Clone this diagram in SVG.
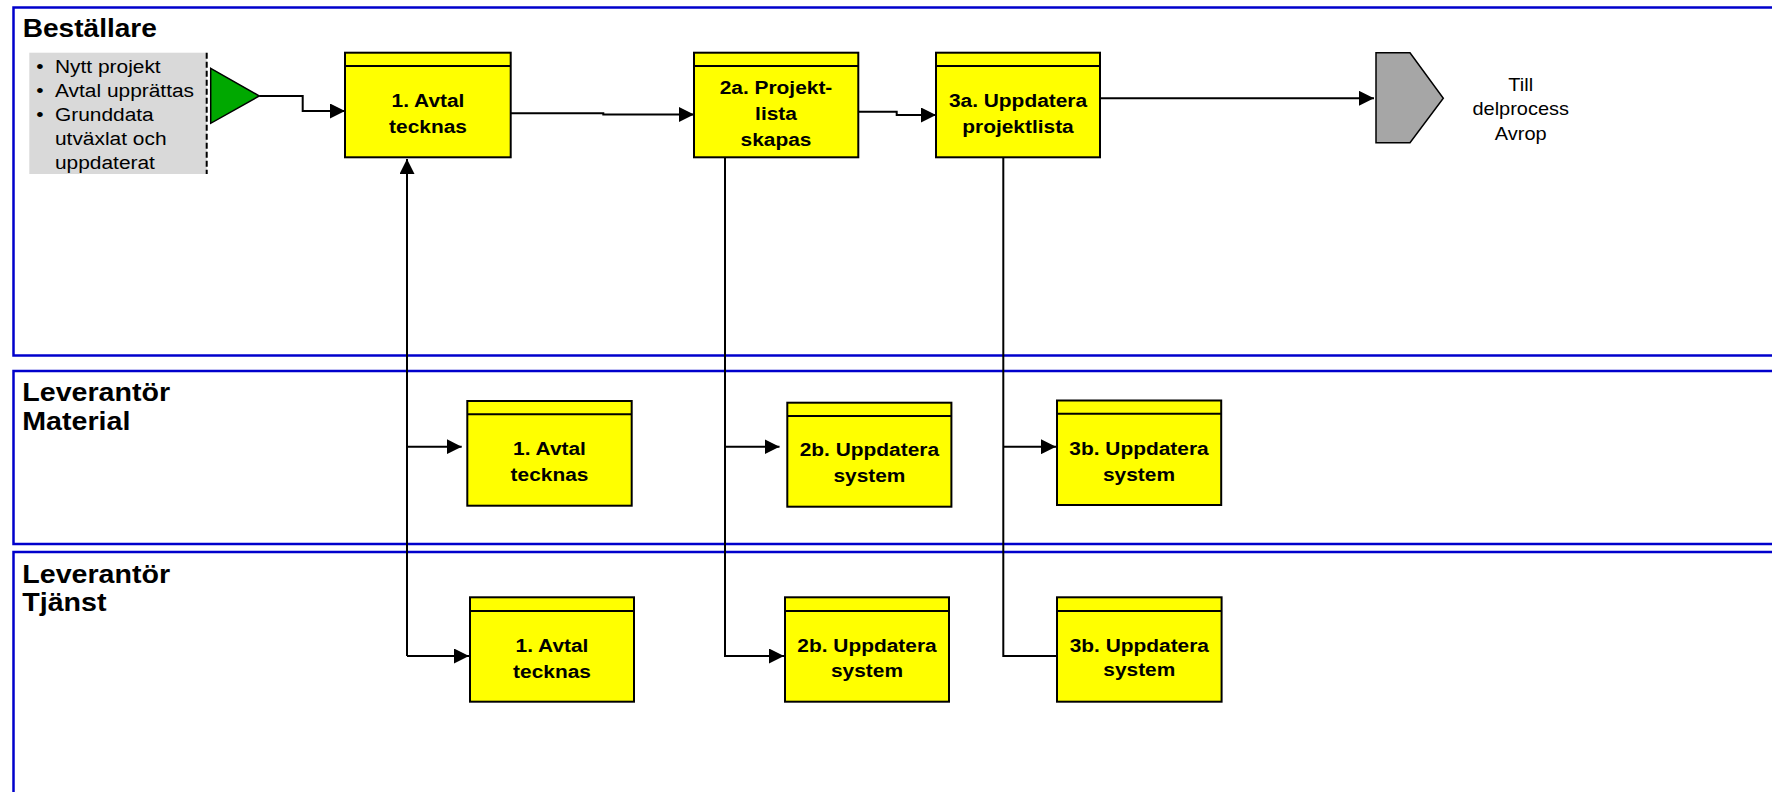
<svg xmlns="http://www.w3.org/2000/svg" width="1772" height="792" viewBox="0 0 1772 792">
  <defs>
    <style>
      .lane { fill: none; stroke: #0000cc; stroke-width: 2.5; }
      .title { font-family: "Liberation Sans", Arial, sans-serif; font-weight: bold; font-size: 26px; fill: #000; }
      .task { fill: #ffff00; stroke: #000; stroke-width: 2; }
      .hdr { stroke: #000; stroke-width: 2; }
      .lbl { font-family: "Liberation Sans", Arial, sans-serif; font-weight: bold; font-size: 19px; fill: #000; text-anchor: middle; }
      .note { font-family: "Liberation Sans", Arial, sans-serif; font-size: 19px; fill: #000; }
      .conn { fill: none; stroke: #000; stroke-width: 2; }
    </style>
    <marker id="arrow" markerUnits="userSpaceOnUse" markerWidth="16" markerHeight="15" refX="15" refY="7.5" orient="auto">
      <path d="M0,0 L15,7.5 L0,15 Z" fill="#000"/>
    </marker>
  </defs>

  <rect width="1772" height="792" fill="#fff"/>

  <!-- swimlanes -->
  <g id="lane-bestallare">
    <rect class="lane" x="13.5" y="7.5" width="1800" height="348"/>
    <text class="title" transform="translate(22.7,0) scale(1.08,1)" x="0" y="36.7">Beställare</text>
  </g>
  <g id="lane-material">
    <rect class="lane" x="13.5" y="371" width="1800" height="173"/>
    <text class="title" transform="translate(22.3,0) scale(1.1,1)" x="0" y="400.7">Leverantör<tspan x="0" dy="29.3">Material</tspan></text>
  </g>
  <g id="lane-tjanst">
    <rect class="lane" x="13.5" y="552" width="1800" height="260"/>
    <text class="title" transform="translate(22.3,0) scale(1.1,1)" x="0" y="582.7">Leverantör<tspan x="0" dy="28.8">Tjänst</tspan></text>
  </g>

  <!-- connectors -->
  <g id="connectors">
    <path class="conn" d="M259.3,96 H302.7 V111 H345" marker-end="url(#arrow)"/>
    <path class="conn" d="M510.7,113.3 H603.3 V114.5 H694" marker-end="url(#arrow)"/>
    <path class="conn" d="M858.3,111.7 H896.7 V115 H936" marker-end="url(#arrow)"/>
    <path class="conn" d="M1100,98.3 H1374" marker-end="url(#arrow)"/>

    <path class="conn" d="M407,656 V159" marker-end="url(#arrow)"/>
    <path class="conn" d="M407,446.7 H461.7" marker-end="url(#arrow)"/>
    <path class="conn" d="M407,656 H469" marker-end="url(#arrow)"/>

    <path class="conn" d="M725,158 V656 H784" marker-end="url(#arrow)"/>
    <path class="conn" d="M725,446.7 H779.5" marker-end="url(#arrow)"/>

    <path class="conn" d="M1003.3,158 V656 H1057"/>
    <path class="conn" d="M1003.3,446.7 H1056" marker-end="url(#arrow)"/>
  </g>

  <!-- start: input list and trigger -->
  <g id="start-inputs">
    <rect x="29.3" y="52.7" width="177.4" height="121.3" fill="#d9d9d9"/>
    <line x1="206.7" y1="52.7" x2="206.7" y2="174" stroke="#000" stroke-width="2" stroke-dasharray="6 3"/>
    <g class="note">
      <text transform="translate(40,0) scale(1.1,1)" x="0" y="72.7" text-anchor="middle">•</text>
      <text transform="translate(40,0) scale(1.1,1)" x="0" y="96.7" text-anchor="middle">•</text>
      <text transform="translate(40,0) scale(1.1,1)" x="0" y="120.7" text-anchor="middle">•</text>
      <text transform="translate(55,0) scale(1.1,1)" x="0" y="72.7">Nytt projekt</text>
      <text transform="translate(55,0) scale(1.1,1)" x="0" y="96.7">Avtal upprättas</text>
      <text transform="translate(55,0) scale(1.1,1)" x="0" y="120.7">Grunddata<tspan x="0" dy="24.2">utväxlat och</tspan><tspan x="0" dy="24">uppdaterat</tspan></text>
    </g>
  </g>
  <g id="start-trigger">
    <polygon points="210.7,68.3 259.3,96 210.7,123.3" fill="#00a800" stroke="#000" stroke-width="1.5"/>
  </g>

  <!-- Beställare tasks -->
  <g id="task-1a">
    <rect class="task" x="345" y="52.7" width="165.7" height="104.6"/>
    <line class="hdr" x1="345" y1="66" x2="510.7" y2="66"/>
    <text class="lbl" transform="translate(428,0) scale(1.1,1)" x="0" y="107.3">1. Avtal<tspan x="0" dy="25.6">tecknas</tspan></text>
  </g>
  <g id="task-2a">
    <rect class="task" x="694" y="52.7" width="164.3" height="104.6"/>
    <line class="hdr" x1="694" y1="66" x2="858.3" y2="66"/>
    <text class="lbl" transform="translate(776,0) scale(1.1,1)" x="0" y="94">2a. Projekt-<tspan x="0" dy="26">lista</tspan><tspan x="0" dy="26">skapas</tspan></text>
  </g>
  <g id="task-3a">
    <rect class="task" x="936" y="52.7" width="164" height="104.6"/>
    <line class="hdr" x1="936" y1="66" x2="1100" y2="66"/>
    <text class="lbl" transform="translate(1018,0) scale(1.1,1)" x="0" y="107">3a. Uppdatera<tspan x="0" dy="26">projektlista</tspan></text>
  </g>
  <g id="end-avrop">
    <polygon points="1376,52.7 1410,52.7 1443.3,98.3 1410,142.7 1376,142.7" fill="#a6a6a6" stroke="#000" stroke-width="1.5"/>
    <text class="note" transform="translate(1520.7,0) scale(1.05,1)" x="0" y="90.7" text-anchor="middle">Till<tspan x="0" dy="24.5">delprocess</tspan><tspan x="0" dy="24.8">Avrop</tspan></text>
  </g>

  <!-- Leverantör Material tasks -->
  <g id="task-1b-material">
    <rect class="task" x="467.3" y="401" width="164.4" height="104.7"/>
    <line class="hdr" x1="467.3" y1="414.3" x2="631.7" y2="414.3"/>
    <text class="lbl" transform="translate(549.5,0) scale(1.1,1)" x="0" y="455">1. Avtal<tspan x="0" dy="26">tecknas</tspan></text>
  </g>
  <g id="task-2b-material">
    <rect class="task" x="787.3" y="402.7" width="164.1" height="104"/>
    <line class="hdr" x1="787.3" y1="416" x2="951.4" y2="416"/>
    <text class="lbl" transform="translate(869.4,0) scale(1.1,1)" x="0" y="456.5">2b. Uppdatera<tspan x="0" dy="25.5">system</tspan></text>
  </g>
  <g id="task-3b-material">
    <rect class="task" x="1057" y="400.5" width="164.2" height="104.5"/>
    <line class="hdr" x1="1057" y1="413.8" x2="1221.2" y2="413.8"/>
    <text class="lbl" transform="translate(1139,0) scale(1.1,1)" x="0" y="455">3b. Uppdatera<tspan x="0" dy="25.7">system</tspan></text>
  </g>

  <!-- Leverantör Tjänst tasks -->
  <g id="task-1b-tjanst">
    <rect class="task" x="470" y="597.3" width="164" height="104.4"/>
    <line class="hdr" x1="470" y1="611" x2="634" y2="611"/>
    <text class="lbl" transform="translate(552,0) scale(1.1,1)" x="0" y="652.3">1. Avtal<tspan x="0" dy="25.5">tecknas</tspan></text>
  </g>
  <g id="task-2b-tjanst">
    <rect class="task" x="785" y="597.3" width="164" height="104.4"/>
    <line class="hdr" x1="785" y1="611" x2="949" y2="611"/>
    <text class="lbl" transform="translate(867,0) scale(1.1,1)" x="0" y="651.7">2b. Uppdatera<tspan x="0" dy="25">system</tspan></text>
  </g>
  <g id="task-3b-tjanst">
    <rect class="task" x="1057" y="597.3" width="164.6" height="104.4"/>
    <line class="hdr" x1="1057" y1="611" x2="1221.6" y2="611"/>
    <text class="lbl" transform="translate(1139.3,0) scale(1.1,1)" x="0" y="651.7">3b. Uppdatera<tspan x="0" dy="24.5">system</tspan></text>
  </g>
</svg>
